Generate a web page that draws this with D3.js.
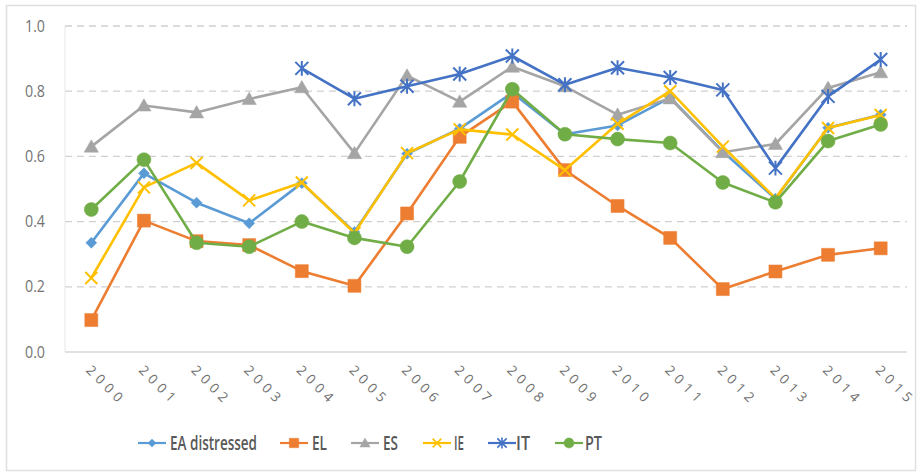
<!DOCTYPE html>
<html><head><meta charset="utf-8">
<script src="https://cdn.jsdelivr.net/npm/d3@7"></script>
<style>
html,body{margin:0;padding:0;background:#fff;}
svg{display:block;}
</style></head>
<body><svg id="c" width="922" height="474"></svg>
<script>
const years = ["2000","2001","2002","2003","2004","2005","2006","2007","2008","2009","2010","2011","2012","2013","2014","2015"];
const yTicks = [0, 0.2, 0.4, 0.6, 0.8, 1.0];
const seriesNames = ["EA distressed","EL","ES","IE","IT","PT"];
const eaDistressed = [0.335,0.548,0.458,0.395,0.518,0.368,0.608,0.685,0.795,0.668,0.695,0.78,0.615,0.47,0.688,0.728];
const el = [0.098,0.403,0.34,0.328,0.248,0.203,0.425,0.66,0.768,0.558,0.448,0.35,0.193,0.247,0.298,0.318];
const es = [0.63,0.756,0.735,0.776,0.812,0.61,0.848,0.768,0.875,0.815,0.728,0.778,0.613,0.638,0.81,0.858];
const ie = [0.227,0.505,0.58,0.465,0.52,0.365,0.61,0.683,0.667,0.558,0.7,0.8,0.63,0.472,0.687,0.727];
const it = [null,null,null,null,0.87,0.777,0.815,0.853,0.908,0.82,0.872,0.842,0.804,0.564,0.784,0.897];
const pt = [0.437,0.59,0.335,0.323,0.4,0.35,0.323,0.523,0.806,0.668,0.653,0.641,0.52,0.459,0.647,0.698];
const seriesValues = [eaDistressed, el, es, ie, it, pt];
const colors = ["#5B9BD5","#ED7D31","#A5A5A5","#FFC000","#4472C4","#70AD47"];
const markers = ["diamond","square","triangle","x","star","circle"];

const svg = d3.select("#c");
// outer frame
svg.append("rect").attr("x",6.5).attr("y",5.5).attr("width",909).attr("height",465)
  .attr("fill","#fff").attr("stroke","#e0e0e0").attr("stroke-width",1.5);

const x = d3.scaleBand().domain(years).range([65, 907]);
const y = d3.scaleLinear().domain([0, 1]).range([352, 26]);
const cx = d => x(d) + x.bandwidth()/2;

// gridlines
svg.append("g").selectAll("line").data(yTicks.filter(t => t > 0)).join("line")
  .attr("x1", 65).attr("x2", 907).attr("y1", d => y(d)).attr("y2", d => y(d))
  .attr("stroke","#d0d0d0").attr("stroke-width",1.3).attr("stroke-dasharray","7,5");
// left border & bottom axis
svg.append("line").attr("x1",65).attr("x2",65).attr("y1",y(1)).attr("y2",y(0)).attr("stroke","#e6e6e6").attr("stroke-width",1);
svg.append("line").attr("x1",65).attr("x2",907).attr("y1",y(0)).attr("y2",y(0)).attr("stroke","#d9d9d9").attr("stroke-width",1.3);

// y labels
svg.append("g").selectAll("text").data(yTicks).join("text")
  .attr("x", 45).attr("y", d => y(d)).attr("dy","0.35em").attr("text-anchor","end")
  .attr("font-family","'Open Sans', sans-serif").attr("font-size",16).attr("fill","#737373")
  .attr("textLength", 20).attr("lengthAdjust","spacingAndGlyphs")
  .text(d => d3.format(".1f")(d));

// x labels
svg.append("g").selectAll("text").data(years).join("text")
  .attr("transform", d => `translate(${cx(d)-6},${371}) rotate(45)`)
  .attr("font-family","'Open Sans', sans-serif").attr("font-size",13.5).attr("fill","#6e6e6e")
  .attr("letter-spacing","4.8px")
  .text(d => d);

function markerPath(type, r) {
  switch (type) {
    case "diamond": return `M0,${-r}L${r},0L0,${r}L${-r},0Z`;
    case "square": return `M${-r},${-r}H${r}V${r}H${-r}Z`;
    case "triangle": return `M0,${-r*1.05}L${r*1.1},${r*0.85}L${-r*1.1},${r*0.85}Z`;
    case "circle": return d3.arc()({innerRadius:0,outerRadius:r,startAngle:0,endAngle:2*Math.PI});
    case "x": return `M${-r},${-r}L${r},${r}M${r},${-r}L${-r},${r}`;
    case "star": return `M${-r},${-r}L${r},${r}M${r},${-r}L${-r},${r}M0,${-r*1.15}V${r*1.15}`;
  }
}
const markerSize = {diamond:5.5, square:6.5, triangle:6.5, circle:7, x:6, star:6.5};

const line = d3.line().defined(d => d.v != null).x(d => cx(d.year)).y(d => y(d.v));

seriesNames.forEach((name, i) => {
  const data = years.map((yr, j) => ({year: yr, v: seriesValues[i][j]}));
  const g = svg.append("g");
  g.append("path").datum(data).attr("d", line).attr("fill","none")
    .attr("stroke", colors[i]).attr("stroke-width", 2.6).attr("stroke-linejoin","round");
  const m = markers[i];
  const open = (m === "x" || m === "star");
  g.selectAll("path.mk").data(data.filter(d => d.v != null)).join("path").attr("class","mk")
    .attr("transform", d => `translate(${cx(d.year)},${y(d.v)})`)
    .attr("d", markerPath(m, markerSize[m]))
    .attr("fill", open ? "none" : colors[i])
    .attr("stroke", colors[i]).attr("stroke-width", open ? 2 : 0.5);
});

// legend
const legendLayout = [
  {x: 152, tx: 170, w: 87}, {x: 294, tx: 312, w: 15}, {x: 365, tx: 383, w: 15},
  {x: 437, tx: 454, w: 10}, {x: 502, tx: 516, w: 14}, {x: 569, tx: 585, w: 17}
];
const lg = svg.append("g");
seriesNames.forEach((name, i) => {
  const L = legendLayout[i];
  const ly = 443;
  lg.append("line").attr("x1", L.x-14).attr("x2", L.x+14).attr("y1", ly).attr("y2", ly)
    .attr("stroke", colors[i]).attr("stroke-width", 2.2);
  const m = markers[i];
  const open = (m === "x" || m === "star");
  lg.append("path").attr("transform", `translate(${L.x},${ly})`)
    .attr("d", markerPath(m, markerSize[m]*0.72))
    .attr("fill", open ? "none" : colors[i]).attr("stroke", colors[i]).attr("stroke-width", open ? 1.6 : 0.5);
  lg.append("text").attr("x", L.tx).attr("y", ly).attr("dy","0.36em")
    .attr("font-family","'Open Sans', sans-serif")
    .attr("font-weight",600).attr("font-size",19).attr("fill","#595959")
    .attr("textLength", L.w).attr("lengthAdjust","spacingAndGlyphs")
    .text(name);
});
</script></body></html>
